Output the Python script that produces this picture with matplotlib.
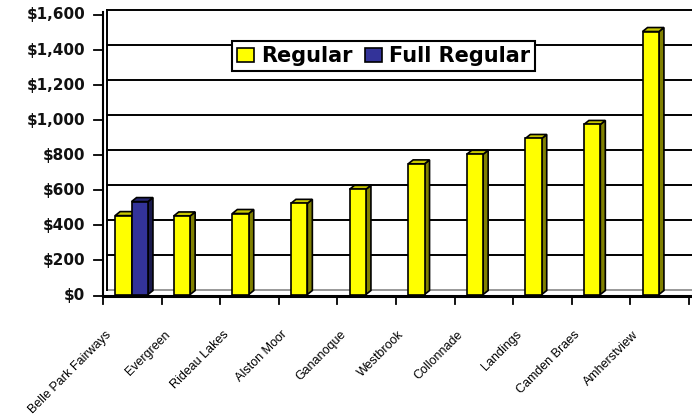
import matplotlib
matplotlib.use("Agg")
import matplotlib.pyplot as plt
from matplotlib.patches import Polygon, Rectangle, Patch
from matplotlib.lines import Line2D

# ---- data -------------------------------------------------------------
courses = ["Belle Park Fairways", "Evergreen", "Rideau Lakes", "Alston Moor",
           "Gananoque", "Westbrook", "Collonnade", "Landings",
           "Camden Braes", "Amherstview"]
regular = [450, 448, 462, 520, 600, 745, 800, 890, 970, 1500]
full_regular = [530, None, None, None, None, None, None, None, None, None]
y_ticks = [0, 200, 400, 600, 800, 1000, 1200, 1400, 1600]
series_names = ["Regular", "Full Regular"]

# ---- styling ----------------------------------------------------------
W, H = 692, 416
YELLOW = ("#FFFF00", "#808000", "#C8C800")   # front, side, top
BLUE = ("#333399", "#1A1A4D", "#262673")

fig = plt.figure(figsize=(W / 100, H / 100), dpi=100)
fig.patch.set_facecolor("white")

# front plane of the 3-D box (pixels): x 103..689, value 0 at y=295.5, 1600 at y=15
X0, X1, YB, YT = 103, 689, 295.5, 15
ax = fig.add_axes([X0 / W, 1 - YB / H, (X1 - X0) / W, (YB - YT) / H])
n = len(courses)
ax.set_xlim(0, n)
ax.set_ylim(0, 1600)
ax.axis("off")

sx = n / (X1 - X0)          # data units per pixel, x
sy = 1600 / (YB - YT)       # data units per pixel, y

# ---- back wall with gridlines -----------------------------------------
bdx, bdy = 4 * sx, 5.5 * sy
right_edge = (W - X0) * sx
for v in y_ticks:
    ax.add_line(Line2D([bdx, right_edge], [v + bdy, v + bdy],
                       color="#999999" if v == 0 else "black",
                       lw=1.4, clip_on=False, zorder=1))
ax.add_line(Line2D([bdx, bdx], [bdy, 1600 + bdy], color="black", lw=1.4,
                   clip_on=False, zorder=1))

# ---- front value axis ---------------------------------------------------
ax.add_line(Line2D([0, 0], [0, 1600 + 3 * sy], color="black", lw=1.5,
                   clip_on=False, zorder=2))
for v in y_ticks:
    ax.add_line(Line2D([-9 * sx, 0], [v, v], color="black", lw=1.3,
                       clip_on=False, zorder=2))
    ax.text(-18 * sx, v, f"${v:,}", ha="right", va="center",
            fontsize=11, fontweight="bold", family="DejaVu Sans",
            color="#111111")

# floor front edge and category ticks
ax.add_line(Line2D([0, right_edge], [0, 0], color="black", lw=2.2,
                   clip_on=False, zorder=2))
for i in range(n + 1):
    ax.add_line(Line2D([i, i], [-2 * sy, -8 * sy], color="black", lw=1.3,
                       clip_on=False, zorder=2))

# ---- 3-D columns ---------------------------------------------------------
dx, dy = 5 * sx, 4 * sy      # column depth
ox, oy = 1 * sx, 1 * sy      # columns sit slightly behind the front plane
bar_w = 0.28
bar_left = 0.19


def column(xl, h, colors, z):
    face, side, top = colors
    x0, y0 = xl + ox, oy
    x1, y1 = x0 + bar_w, y0 + h
    ax.add_patch(Polygon([(x1, y0), (x1 + dx, y0 + dy), (x1 + dx, y1 + dy), (x1, y1)],
                         closed=True, facecolor=side, edgecolor="black",
                         lw=1.2, zorder=z, clip_on=False))
    ax.add_patch(Polygon([(x0, y1), (x0 + dx, y1 + dy), (x1 + dx, y1 + dy), (x1, y1)],
                         closed=True, facecolor=top, edgecolor="black",
                         lw=1.2, zorder=z, clip_on=False))
    ax.add_patch(Rectangle((x0, y0), bar_w, h, facecolor=face,
                           edgecolor="black", lw=1.2, zorder=z, clip_on=False))


z = 3
for i in range(n):
    if regular[i] is not None:
        column(i + bar_left, regular[i], YELLOW, z)
        z += 1
    if full_regular[i] is not None:
        column(i + bar_left + bar_w, full_regular[i], BLUE, z)
        z += 1

# ---- category labels ------------------------------------------------------
for i, name in enumerate(courses):
    ax.text(i + 0.5 - 27 * sx, -33 * sy, name, rotation=45,
            rotation_mode="anchor", ha="right", va="top", fontsize=9,
            family="Liberation Sans", color="black")

# ---- legend ---------------------------------------------------------------
handles = [Patch(facecolor=YELLOW[0], edgecolor="black", lw=1.2),
           Patch(facecolor=BLUE[0], edgecolor="black", lw=1.2)]
leg = fig.legend(handles, series_names, loc="upper left",
                 bbox_to_anchor=(232 / W, 1 - 41 / H), borderaxespad=0,
                 ncol=2, fancybox=False, shadow=False, framealpha=1,
                 edgecolor="black", borderpad=0.25, handlelength=0.8,
                 handleheight=0.7, handletextpad=0.35, columnspacing=0.6,
                 prop={"family": "DejaVu Sans", "weight": "bold", "size": 15})
leg.get_frame().set_linewidth(1.5)
leg.set_zorder(20)

fig.savefig("out.png", dpi=100)
